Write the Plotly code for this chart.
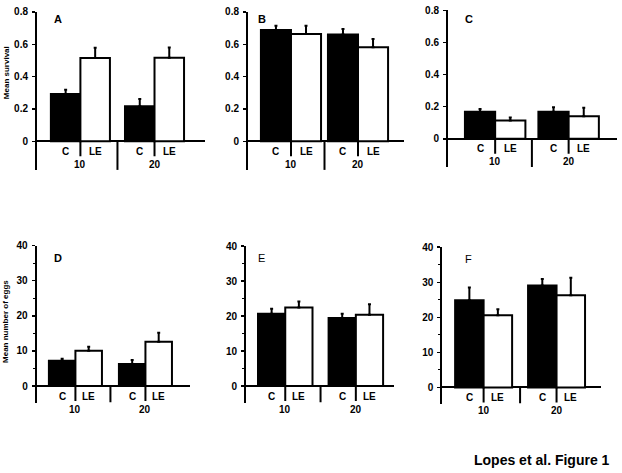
import plotly.graph_objects as go

# ---------------- data ----------------
groups = ["10", "20"]
treatments = ["C", "LE"]

# Mean survival (top row)
a_C = [0.293, 0.216]
a_C_err = [0.025, 0.045]
a_LE = [0.515, 0.517]
a_LE_err = [0.063, 0.063]

b_C = [0.688, 0.660]
b_C_err = [0.026, 0.034]
b_LE = [0.664, 0.582]
b_LE_err = [0.050, 0.051]

c_C = [0.168, 0.168]
c_C_err = [0.017, 0.029]
c_LE = [0.114, 0.141]
c_LE_err = [0.019, 0.053]

# Mean number of eggs (bottom row)
d_C = [7.2, 6.3]
d_C_err = [0.6, 1.1]
d_LE = [10.1, 12.6]
d_LE_err = [1.1, 2.6]

e_C = [20.7, 19.5]
e_C_err = [1.4, 1.2]
e_LE = [22.5, 20.4]
e_LE_err = [1.7, 3.0]

f_C = [24.9, 29.1]
f_C_err = [3.6, 1.8]
f_LE = [20.6, 26.3]
f_LE_err = [1.7, 5.0]

surv_ticks = [0, 0.2, 0.4, 0.6, 0.8]
surv_ticktext = ["0", "0.2", "0.4", "0.6", "0.8"]
egg_ticks = [0, 10, 20, 30, 40]
egg_ticktext = ["0", "10", "20", "30", "40"]

panels = [
    ("A", a_C, a_C_err, a_LE, a_LE_err),
    ("B", b_C, b_C_err, b_LE, b_LE_err),
    ("C", c_C, c_C_err, c_LE, c_LE_err),
    ("D", d_C, d_C_err, d_LE, d_LE_err),
    ("E", e_C, e_C_err, e_LE, e_LE_err),
    ("F", f_C, f_C_err, f_LE, f_LE_err),
]

# ---------------- layout geometry (pixels) ----------------
W, H = 622, 473
geom = {
    "A": dict(left=37, right=205, top=6, zero=137, bottom=166, lpad=0.47, gap=0.51, rpad=0.71, lab=(57.5, 13.5)),
    "B": dict(left=248, right=404, top=6, zero=137, bottom=166, lpad=0.43, gap=0.23, rpad=0.53, lab=(262, 13.5)),
    "C": dict(left=448, right=617, top=4.5, zero=134.5, bottom=163, lpad=0.56, gap=0.43, rpad=0.60, lab=(468.5, 13)),
    "D": dict(left=36.7, right=190, top=242.7, zero=385, bottom=401.7, lpad=0.46, gap=0.64, rpad=0.68, lab=(57.5, 255.5)),
    "E": dict(left=246, right=394, top=243.3, zero=385, bottom=401.7, lpad=0.44, gap=0.59, rpad=0.40, lab=(261.5, 255.5)),
    "F": dict(left=442.3, right=601, top=244.3, zero=386.3, bottom=402.7, lpad=0.45, gap=0.56, rpad=0.56, lab=(468.5, 256)),
}

FONT = "Liberation Sans, Arial, sans-serif"
fig = go.Figure()
annotations = []
shapes = []

for i, (letter, cv, ce, lv, le) in enumerate(panels):
    g = geom[letter]
    n = "" if i == 0 else str(i + 1)
    xa, ya = "x" + n, "y" + n
    top_row = i < 3
    ymax = 0.8 if top_row else 40
    ybot = -ymax * (g["bottom"] - g["zero"]) / (g["zero"] - g["top"])

    g0 = g["lpad"] + 1
    g1 = g0 + 2 + g["gap"]
    centers = [g0, g1]
    xmax = g["lpad"] + 4 + g["gap"] + g["rpad"]
    divider = g["lpad"] + 2 + g["gap"] / 2

    fig.add_trace(go.Bar(
        x=[c - 0.5 for c in centers], y=cv, width=1, xaxis=xa, yaxis=ya,
        marker=dict(color="black", line=dict(color="black", width=2)),
        error_y=dict(type="data", symmetric=False, array=ce, arrayminus=[0] * len(ce),
                     color="black", thickness=2, width=1.5),
        showlegend=False, name="C"))
    fig.add_trace(go.Bar(
        x=[c + 0.5 for c in centers], y=lv, width=1, xaxis=xa, yaxis=ya,
        marker=dict(color="white", line=dict(color="black", width=2)),
        error_y=dict(type="data", symmetric=False, array=le, arrayminus=[0] * len(le),
                     color="black", thickness=2, width=1.5),
        showlegend=False, name="LE"))

    fig.layout["xaxis" + n] = dict(
        domain=[g["left"] / W, g["right"] / W], range=[0, xmax],
        visible=False, anchor=ya, fixedrange=True)
    yax = dict(
        domain=[1 - g["bottom"] / H, 1 - g["top"] / H], range=[ybot, ymax],
        anchor=xa, showline=True, linecolor="black", linewidth=2,
        showgrid=False, zeroline=True, zerolinecolor="black", zerolinewidth=2,
        ticks="outside", ticklen=3, tickwidth=1.5, tickcolor="black",
        tickvals=surv_ticks if top_row else egg_ticks,
        ticktext=surv_ticktext if top_row else egg_ticktext,
        tickfont=dict(family=FONT, size=10, color="black", weight="bold"),
        ticklabelstandoff=2, fixedrange=True)
    if not top_row:
        yax["minor"] = dict(tickvals=[5, 15, 25, 35], ticks="outside", ticklen=2,
                            tickcolor="black", tickwidth=1)
    fig.layout["yaxis" + n] = yax

    # treatment labels and group labels
    for gi, c in enumerate(centers):
        for off, t in zip([-0.5, 0.5], treatments):
            annotations.append(dict(
                x=c + off, y=0, xref=xa, yref=ya, yshift=-10, text=t, showarrow=False,
                font=dict(family=FONT, size=10, color="black", weight="bold")))
        annotations.append(dict(
            x=c, y=0, xref=xa, yref=ya, yshift=-23, text=groups[gi], showarrow=False,
            font=dict(family=FONT, size=10, color="black", weight="bold")))
        # short tick between C and LE
        shapes.append(dict(type="line", xref=xa, yref=ya, ysizemode="pixel", yanchor=0,
                           x0=c, x1=c, y0=0, y1=-15, line=dict(color="black", width=2)))
    # divider between groups
    shapes.append(dict(type="line", xref=xa, yref=ya, x0=divider, x1=divider, y0=0, y1=ybot,
                       line=dict(color="black", width=2)))

    # panel letter
    annotations.append(dict(
        x=g["lab"][0] / W, y=1 - g["lab"][1] / H, xref="paper", yref="paper",
        text=letter, showarrow=False, xanchor="center", yanchor="middle",
        font=dict(family=FONT, size=11, color="black",
                  weight="normal" if letter in ("E", "F") else "bold")))

# axis titles
annotations.append(dict(x=6 / W, y=1 - 68 / H, xref="paper", yref="paper", text="Mean survival",
                        textangle=-90, showarrow=False, xanchor="center", yanchor="middle",
                        font=dict(family=FONT, size=8, color="black", weight="bold")))
annotations.append(dict(x=6 / W, y=1 - 320 / H, xref="paper", yref="paper", text="Mean number of eggs",
                        textangle=-90, showarrow=False, xanchor="center", yanchor="middle",
                        font=dict(family=FONT, size=8, color="black", weight="bold")))
# caption
annotations.append(dict(x=612 / W, y=1 - 460 / H, xref="paper", yref="paper",
                        text="Lopes et al. Figure 1", showarrow=False,
                        xanchor="right", yanchor="middle",
                        font=dict(family=FONT, size=14, color="black", weight="bold")))

fig.update_layout(
    width=W, height=H, margin=dict(l=0, r=0, t=0, b=0),
    paper_bgcolor="white", plot_bgcolor="rgba(0,0,0,0)",
    barmode="overlay", annotations=annotations, shapes=shapes,
)
fig.write_html("out.html", config={"displayModeBar": False, "staticPlot": True},
               post_script="document.body.style.margin='0';document.body.style.overflow='hidden';")
